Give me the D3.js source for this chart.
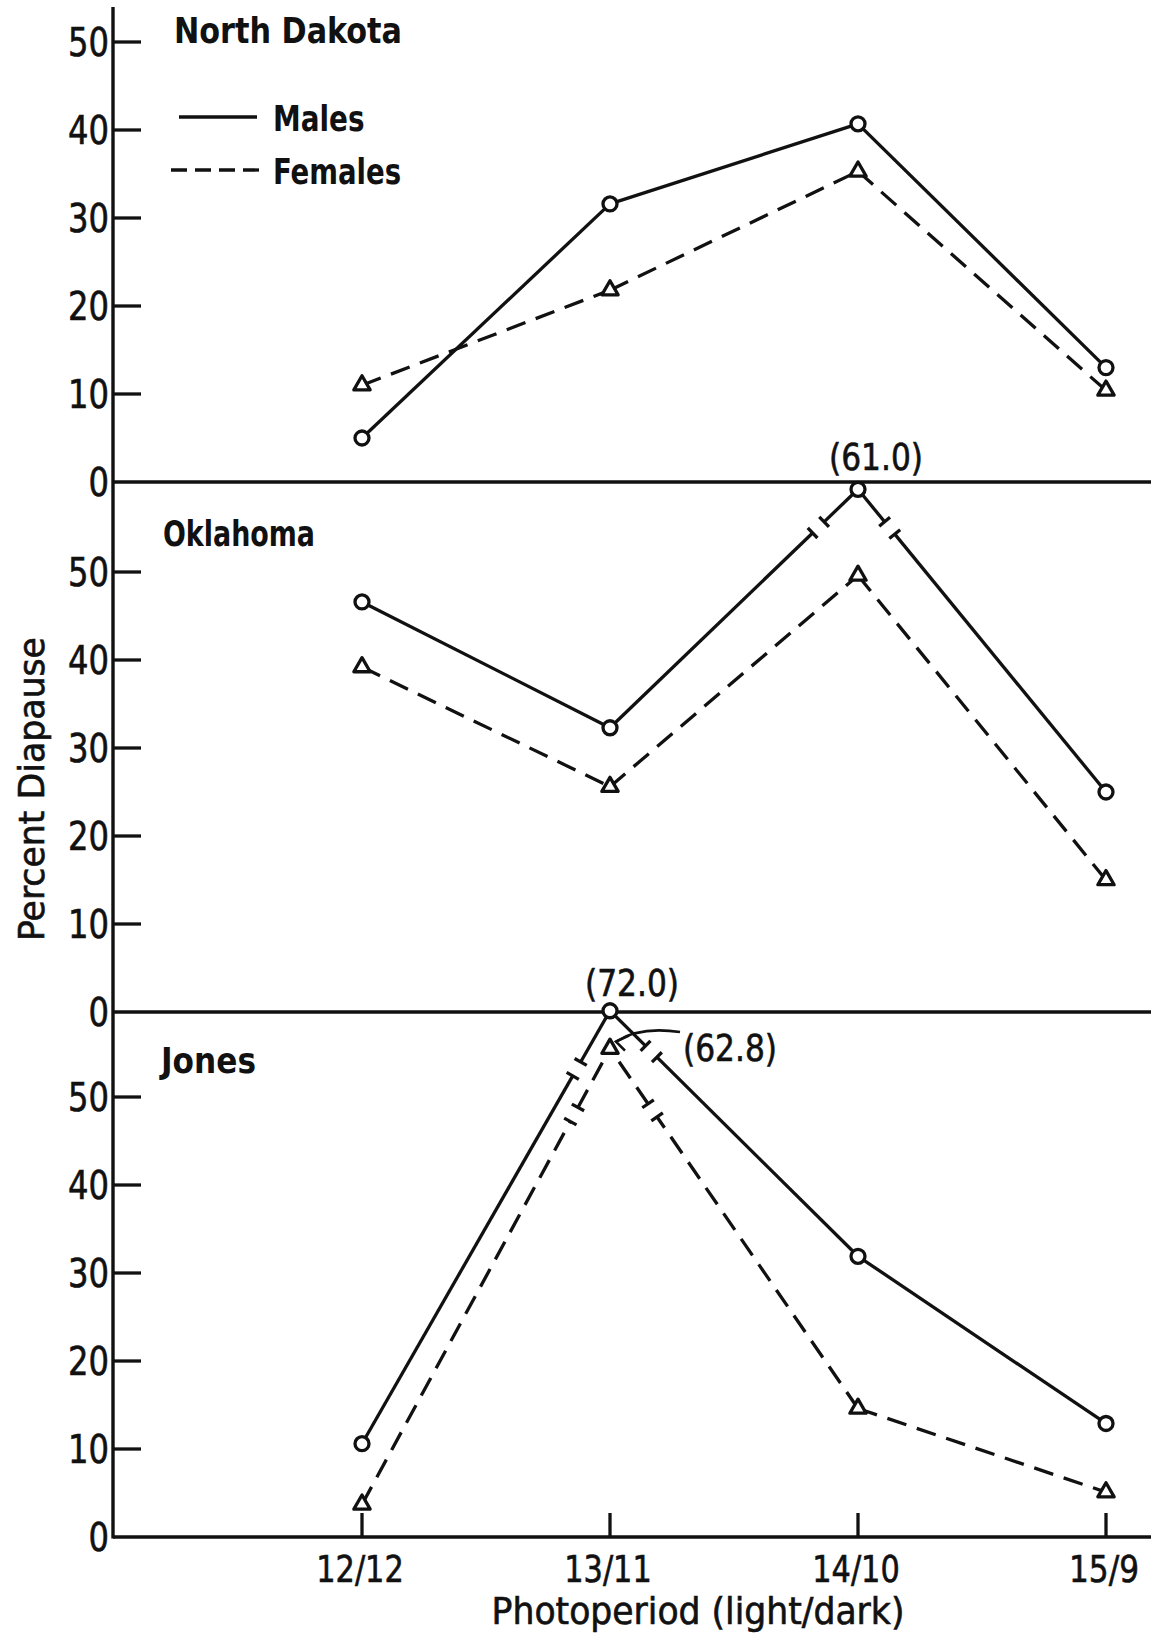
<!DOCTYPE html>
<html>
<head>
<meta charset="utf-8">
<script src="https://cdn.jsdelivr.net/npm/d3@7"></script>
<style>
  body { margin: 0; background: #fff; }
  svg { display: block; }
  text { font-family: "DejaVu Sans Condensed", "DejaVu Sans", sans-serif; fill: #111; stroke: #111; stroke-width: 0.6; }
</style>
</head>
<body>
<div id="chart"></div>
<script>
// photoperiods (light/dark) on the x axis
const periods = ["12/12", "13/11", "14/10", "15/9"];
const panelNames = ["North Dakota", "Oklahoma", "Jones"];
const yTicks = [0, 10, 20, 30, 40, 50];

// percent diapause
const ndMales = [5.0, 31.6, 40.7, 13.0];
const ndFemales = [11.0, 21.8, 35.3, 10.4];
const okMales = [46.6, 32.3, 61.0, 25.0];
const okFemales = [39.2, 25.6, 49.6, 15.0];
const jonesMales = [10.6, 72.0, 31.9, 12.9];
const jonesFemales = [3.7, 62.8, 14.6, 5.1];

// values too large for the scale are drawn at the top with broken lines
const offScale = [
  { panel: 1, sex: "m", i: 2, shownAt: 59.4, brk: [55, 50] },
  { panel: 2, sex: "m", i: 1, shownAt: 59.8, brk: [67, 58] },
  { panel: 2, sex: "f", i: 1, shownAt: 55.5, brk: [75, 75] }
];

const males = [ndMales, okMales, jonesMales];
const females = [ndFemales, okFemales, jonesFemales];

const width = 1151, height = 1633;
const axisX = 113;
const zeroY = [482, 1012, 1537];
const unit = 8.8;
const lw = 3.3;

const svg = d3.select("#chart").append("svg")
  .attr("width", width)
  .attr("height", height);

// squeeze text to the narrow lettering of the original
function narrow(sel, perChar) {
  sel.attr("textLength", d => String(d).length * perChar)
    .attr("lengthAdjust", "spacingAndGlyphs");
}

const x = d3.scalePoint().domain(periods).range([362, 1106]);
const yScales = zeroY.map(z => d3.scaleLinear().domain([0, 60]).range([z, z - 60 * unit]));

// y axis line
svg.append("line")
  .attr("x1", axisX).attr("x2", axisX)
  .attr("y1", 7).attr("y2", zeroY[2] + 1.5)
  .attr("stroke", "#111").attr("stroke-width", 3.4);

// panel baselines
svg.append("g").selectAll("line")
  .data(zeroY)
  .join("line")
  .attr("x1", axisX).attr("x2", width)
  .attr("y1", d => d).attr("y2", d => d)
  .attr("stroke", "#111").attr("stroke-width", lw);

// y ticks and labels for each panel
yScales.forEach((y, pi) => {
  const g = svg.append("g");
  g.selectAll("line")
    .data(yTicks.filter(t => t > 0))
    .join("line")
    .attr("x1", axisX).attr("x2", axisX + 28)
    .attr("y1", d => y(d)).attr("y2", d => y(d))
    .attr("stroke", "#111").attr("stroke-width", lw);
  g.selectAll("text")
    .data(yTicks)
    .join("text")
    .attr("x", axisX - 4)
    .attr("y", d => y(d))
    .attr("dy", "0.37em")
    .attr("text-anchor", "end")
    .attr("font-size", 39)
    .text(d => d)
    .call(narrow, 20.5);
});

// x ticks (pointing up) and labels
const xg = svg.append("g");
xg.selectAll("line")
  .data(periods)
  .join("line")
  .attr("x1", d => x(d)).attr("x2", d => x(d))
  .attr("y1", zeroY[2]).attr("y2", zeroY[2] - 24)
  .attr("stroke", "#111").attr("stroke-width", lw);
xg.selectAll("text")
  .data(periods)
  .join("text")
  .attr("x", d => x(d) - 2)
  .attr("y", 1582)
  .attr("text-anchor", "middle")
  .attr("font-size", 38)
  .text(d => d)
  .call(narrow, 17.5);

// axis titles
svg.append("text")
  .datum("Percent Diapause")
  .attr("transform", "translate(44,789) rotate(-90)")
  .attr("text-anchor", "middle")
  .attr("font-size", 36)
  .text(d => d)
  .call(narrow, 19);

svg.append("text")
  .datum("Photoperiod (light/dark)")
  .attr("x", 698).attr("y", 1624)
  .attr("text-anchor", "middle")
  .attr("font-size", 38)
  .text(d => d)
  .call(narrow, 17.2);

// panel names
const nameY = [43, 546, 1073];
const nameX = [174, 163, 161];
svg.append("g").selectAll("text")
  .data(panelNames)
  .join("text")
  .attr("x", (d, i) => nameX[i])
  .attr("y", (d, i) => nameY[i])
  .attr("font-size", 36)
  .attr("font-weight", "bold")
  .style("stroke-width", 0)
  .text(d => d)
  .call(narrow, 19);

// legend
const leg = svg.append("g");
leg.append("line").attr("x1", 179).attr("x2", 257).attr("y1", 117).attr("y2", 117)
  .attr("stroke", "#111").attr("stroke-width", lw);
leg.append("line").attr("x1", 171).attr("x2", 262).attr("y1", 170).attr("y2", 170)
  .attr("stroke", "#111").attr("stroke-width", lw).attr("stroke-dasharray", "16,8");
leg.selectAll("text")
  .data(["Males", "Females"])
  .join("text")
  .attr("x", 273)
  .attr("y", (d, i) => [131, 184][i])
  .attr("font-size", 36)
  .attr("font-weight", "bold")
  .style("stroke-width", 0)
  .text(d => d)
  .call(narrow, 18.3);

// helpers
function breakInfo(pi, sex, i) {
  return offScale.find(d => d.panel === pi && d.sex === sex && d.i === i);
}
function shownValue(pi, sex, i, v) {
  const o = breakInfo(pi, sex, i);
  return o ? o.shownAt : v;
}

function drawSegment(g, p, q, brkDist, dashed) {
  const line = (a, b) => g.append("line")
    .attr("x1", a[0]).attr("y1", a[1]).attr("x2", b[0]).attr("y2", b[1])
    .attr("stroke", "#111").attr("stroke-width", lw)
    .attr("stroke-dasharray", dashed ? "20,11" : null);
  if (!brkDist) { line(p, q); return; }
  const dx = q[0] - p[0], dy = q[1] - p[1];
  const len = Math.hypot(dx, dy);
  const ux = dx / len, uy = dy / len;
  const gap = 16;
  const b1 = [q[0] - ux * (brkDist + gap / 2), q[1] - uy * (brkDist + gap / 2)];
  const b2 = [q[0] - ux * (brkDist - gap / 2), q[1] - uy * (brkDist - gap / 2)];
  line(p, b1);
  line(b2, q);
  // small break marks across the line
  const nx = -uy, ny = ux;
  [b1, b2].forEach(b => {
    g.append("line")
      .attr("x1", b[0] - nx * 7).attr("y1", b[1] - ny * 7)
      .attr("x2", b[0] + nx * 7).attr("y2", b[1] + ny * 7)
      .attr("stroke", "#111").attr("stroke-width", lw);
  });
}

// series lines and markers
yScales.forEach((y, pi) => {
  [["m", males[pi]], ["f", females[pi]]].forEach(([sex, vals]) => {
    const g = svg.append("g");
    const pts = vals.map((v, i) => [x(periods[i]), y(shownValue(pi, sex, i, v))]);
    for (let i = 0; i < pts.length - 1; i++) {
      let p = pts[i], q = pts[i + 1], brk = null;
      const bA = breakInfo(pi, sex, i), bB = breakInfo(pi, sex, i + 1);
      if (bB) { brk = bB.brk[0]; }
      else if (bA) { brk = bA.brk[1]; [p, q] = [q, p]; }
      drawSegment(g, p, q, brk, sex === "f");
    }
    if (sex === "m") {
      g.selectAll("circle")
        .data(pts)
        .join("circle")
        .attr("cx", d => d[0]).attr("cy", d => d[1])
        .attr("r", 7)
        .attr("fill", "#fff").attr("stroke", "#111").attr("stroke-width", lw);
    } else {
      g.selectAll("path")
        .data(pts)
        .join("path")
        .attr("transform", d => `translate(${d[0]},${d[1]})`)
        .attr("d", d3.symbol(d3.symbolTriangle, 115))
        .attr("fill", "#fff").attr("stroke", "#111").attr("stroke-width", lw)
        .attr("stroke-linejoin", "round");
    }
  });
});

// value labels for off-scale points
const fmt = d3.format(".1f");
const notes = [
  { v: okMales[2], x: x(periods[2]) + 18, y: 470, anchor: "middle" },
  { v: jonesMales[1], x: x(periods[1]) + 22, y: 996, anchor: "middle" },
  { v: jonesFemales[1], x: 683, y: 1061, anchor: "start" }
];
svg.append("g").selectAll("text")
  .data(notes)
  .join("text")
  .attr("x", d => d.x).attr("y", d => d.y)
  .attr("text-anchor", d => d.anchor)
  .attr("font-size", 38)
  .attr("textLength", 94)
  .attr("lengthAdjust", "spacingAndGlyphs")
  .text(d => `(${fmt(d.v)})`);

// curved arrow from (62.8) to its triangle
const tri = [x(periods[1]), yScales[2](offScale[2].shownAt)];
const tip = [tri[0] + 6, tri[1] - 7];
svg.append("path")
  .attr("d", `M680,1032 Q640,1026 ${tip[0]},${tip[1]}`)
  .attr("fill", "none").attr("stroke", "#111").attr("stroke-width", 2.6);
svg.append("path")
  .attr("d", `M${tip[0] + 13},${tip[1] - 6} L${tip[0]},${tip[1]} L${tip[0] + 9},${tip[1] + 9}`)
  .attr("fill", "none").attr("stroke", "#111").attr("stroke-width", 2.6);
</script>
</body>
</html>
